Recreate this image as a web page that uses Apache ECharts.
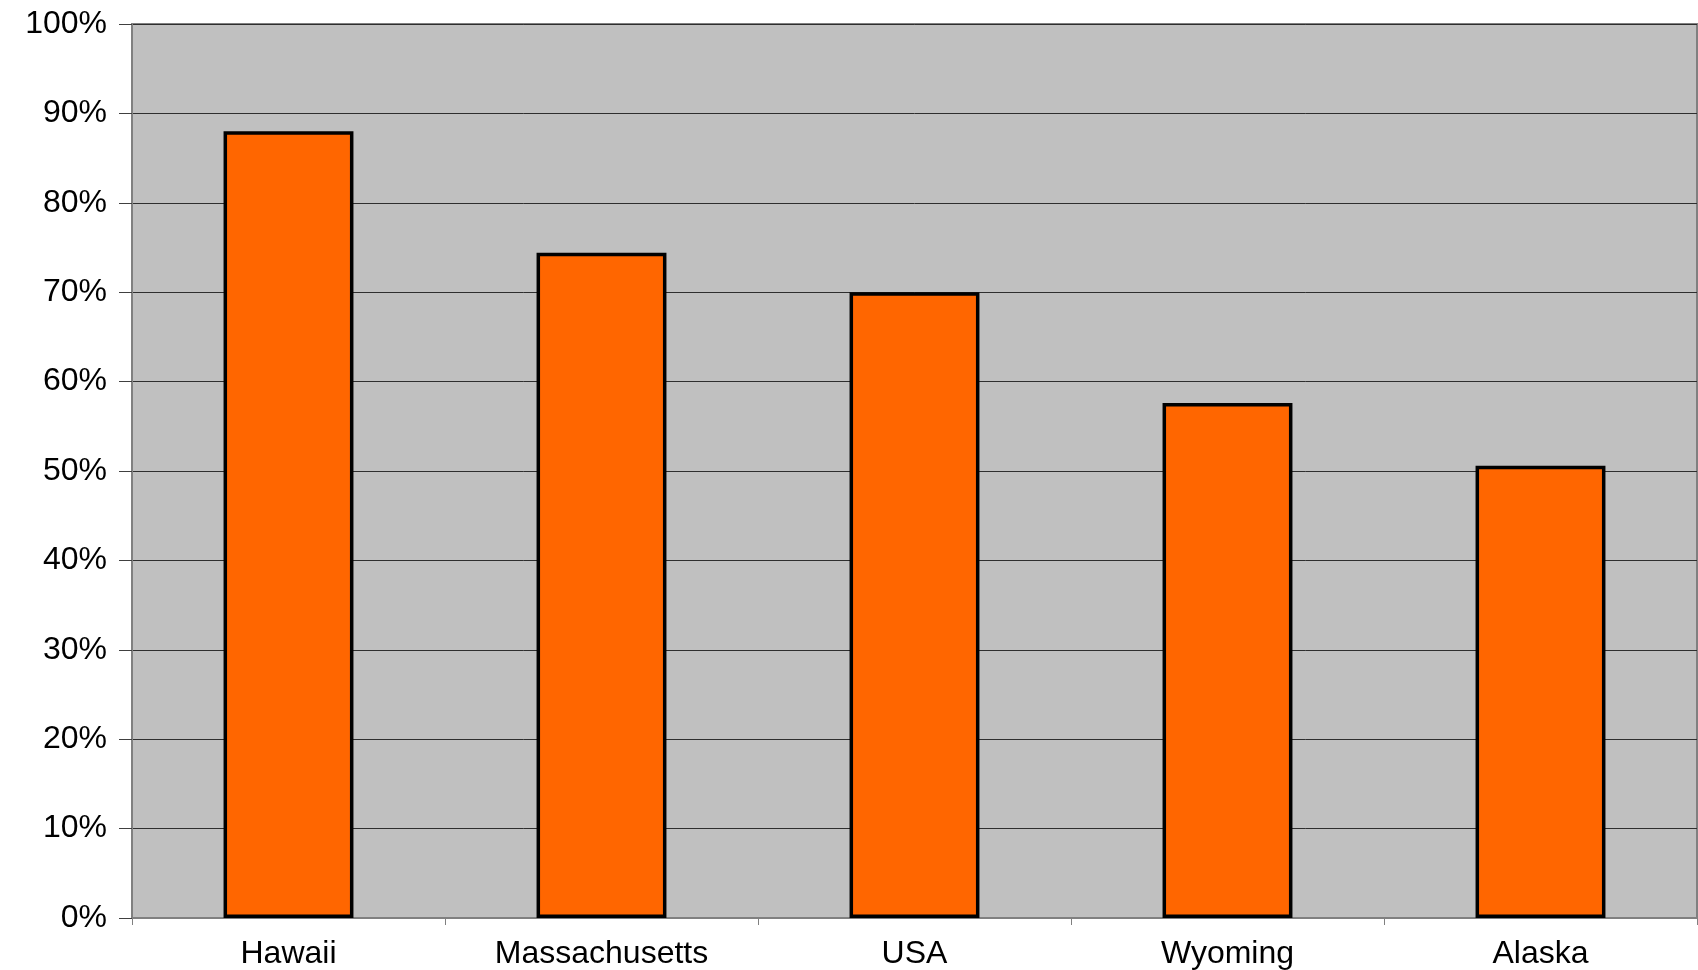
<!DOCTYPE html>
<html>
<head>
<meta charset="utf-8">
<style>
  html, body { margin: 0; padding: 0; background: #ffffff; }
  #chart { width: 1698px; height: 970px; }
</style>
<script src="https://cdn.jsdelivr.net/npm/echarts@6/dist/echarts.min.js"></script>
</head>
<body>
<div id="chart"></div>
<script>
// Share of population, by place (percent)
const categories = ['Hawaii', 'Massachusetts', 'USA', 'Wyoming', 'Alaska'];
const shareValues = [88, 74.4, 70, 57.6, 50.6];
const yTicks = [0, 10, 20, 30, 40, 50, 60, 70, 80, 90, 100];

const chart = echarts.init(document.getElementById('chart'), null, { renderer: 'canvas' });

const labelFont = '"Liberation Sans", Arial, Helvetica, sans-serif';

chart.setOption({
  backgroundColor: '#ffffff',
  animation: false,
  grid: {
    left: 132,
    right: 1,
    top: 24,
    bottom: 52,
    show: true,
    backgroundColor: '#c0c0c0',
    borderColor: '#808080',
    borderWidth: 2
  },
  xAxis: {
    type: 'category',
    data: categories,
    boundaryGap: true,
    axisLine: { show: true, lineStyle: { color: '#808080', width: 2 } },
    axisTick: { show: true, length: 7, lineStyle: { color: '#808080', width: 1 } },
    axisLabel: {
      margin: 20,
      color: '#000000',
      fontFamily: labelFont,
      fontSize: 32
    }
  },
  yAxis: {
    type: 'value',
    min: yTicks[0],
    max: yTicks[yTicks.length - 1],
    interval: yTicks[1] - yTicks[0],
    axisLine: { show: true, lineStyle: { color: '#808080', width: 2 } },
    axisTick: { show: true, length: 13, lineStyle: { color: '#404040', width: 1 } },
    splitLine: { show: true, lineStyle: { color: '#2e2e2e', width: 1 } },
    axisLabel: {
      margin: 25,
      color: '#000000',
      fontFamily: labelFont,
      fontSize: 32,
      formatter: v => v + '%'
    }
  },
  series: [{
    type: 'bar',
    data: shareValues,
    barWidth: '41.5%',
    itemStyle: {
      color: '#ff6600',
      borderColor: '#000000',
      borderWidth: 3.5
    }
  }]
});
</script>
</body>
</html>
